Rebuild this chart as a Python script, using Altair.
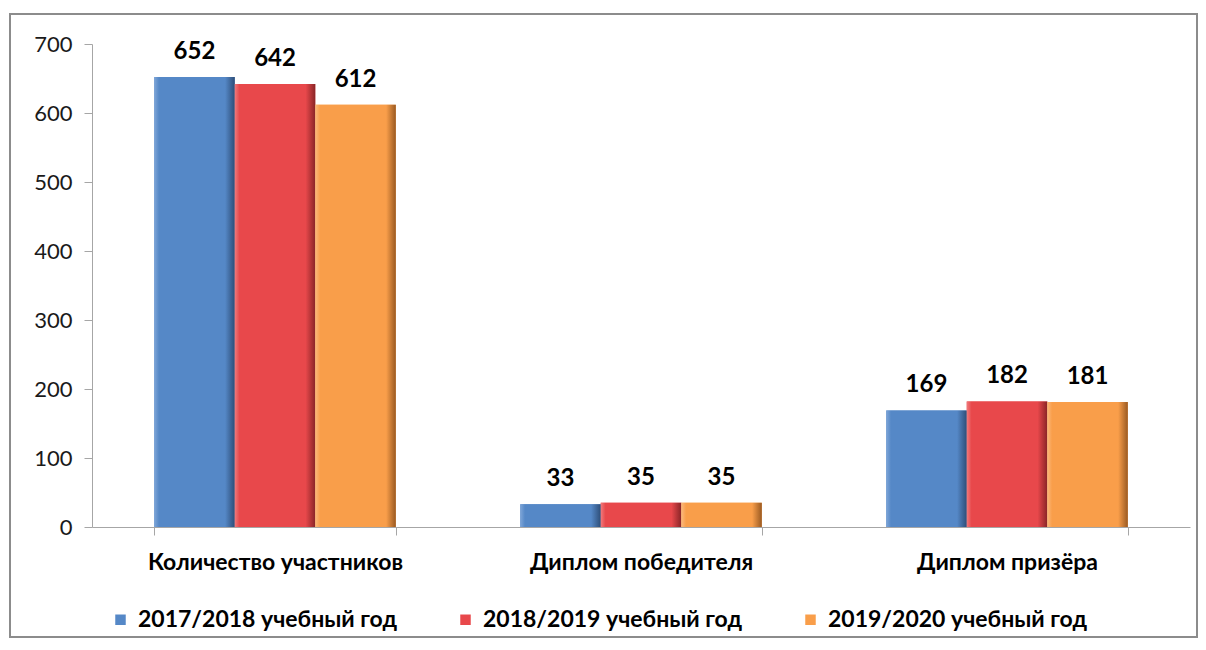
import altair as alt
import pandas as pd

categories = ["Количество участников", "Диплом победителя", "Диплом призёра"]
series = ["2017/2018 учебный год", "2018/2019 учебный год", "2019/2020 учебный год"]
values_2017 = [652, 33, 169]
values_2018 = [642, 35, 182]
values_2019 = [612, 35, 181]
colors = ["#5588C7", "#E8484B", "#F99E4A"]
dark = ["#2E4E78", "#8A2527", "#9A5A22"]
light = ["#7FA6D8", "#F07A7C", "#FBBA7E"]

rows = []
for s, vals in zip(series, [values_2017, values_2018, values_2019]):
    for c, v in zip(categories, vals):
        rows.append({"cat": c, "series": s, "value": v})
df = pd.DataFrame(rows)

FONT = "Lato"
W, H = 1098, 483

x = alt.X("cat:N", sort=categories, title=None,
          scale=alt.Scale(paddingInner=0.34, paddingOuter=0.17),
          axis=alt.Axis(labelAngle=0, labelFont=FONT, labelFontSize=23, labelFontWeight="bold",
                        labelColor="#000000", labelPadding=16, tickBand="extent", labelLimit=500,
                        domainColor="#A6A6A6", tickColor="#A6A6A6", tickSize=8,
                        grid=False))
y = alt.Y("value:Q", title=None,
          scale=alt.Scale(domain=[0, 700], nice=False),
          axis=alt.Axis(values=[0, 100, 200, 300, 400, 500, 600, 700], labelFont=FONT,
                        labelFontSize=22, labelColor="#1A1A1A", labelPadding=12,
                        domainColor="#A6A6A6", tickColor="#A6A6A6", tickSize=8, grid=False))
xo = alt.XOffset("series:N", sort=series, scale=alt.Scale(paddingInner=0, paddingOuter=0))

base = alt.Chart(df)

bars = base.mark_bar(stroke=None).encode(
    x=x, y=y, xOffset=xo,
    color=alt.Color("series:N", sort=series,
                    scale=alt.Scale(domain=series, range=colors),
                    legend=alt.Legend(title=None, orient="none", direction="horizontal",
                                      legendX=17, legendY=564, columnPadding=56,
                                      symbolType="square", symbolSize=110, symbolStrokeWidth=0,
                                      labelFont=FONT, labelFontSize=23, labelFontWeight="bold",
                                      labelColor="#000000", labelOffset=6, labelLimit=400)),
)

layers = [bars]
for s, c, d, l in zip(series, colors, dark, light):
    grad = alt.Gradient(gradient="linear", x1=0, x2=1, y1=0, y2=0,
                        stops=[alt.GradientStop(offset=0, color=l),
                               alt.GradientStop(offset=0.06, color=c),
                               alt.GradientStop(offset=0.88, color=c),
                               alt.GradientStop(offset=1, color=d)])
    layers.append(
        base.transform_filter(alt.datum.series == s).mark_bar(color=grad).encode(
            x=x, y=y, xOffset=xo)
    )

labels = base.mark_text(baseline="bottom", dy=-13, font=FONT, fontSize=24,
                        fontWeight="bold", color="#000000").encode(
    x=x, y=y, xOffset=xo, text="value:Q")
layers.append(labels)

border = alt.Chart(pd.DataFrame({"a": [0]})).mark_rect(
    fill=None, stroke="#8C8C8C", strokeWidth=2, clip=False).encode(
    x=alt.value(-82), x2=alt.value(1105), y=alt.value(-30), y2=alt.value(593))
layers.insert(0, border)

chart = alt.layer(*layers).properties(
    width=W, height=H,
    autosize=alt.AutoSizeParams(type="none"),
    padding={"left": 84, "top": 36, "right": 8, "bottom": 112},
).configure(background="#FFFFFF").configure_view(stroke=None, strokeWidth=0)

chart.save("out.html", embed_options={"renderer": "svg", "actions": False})
